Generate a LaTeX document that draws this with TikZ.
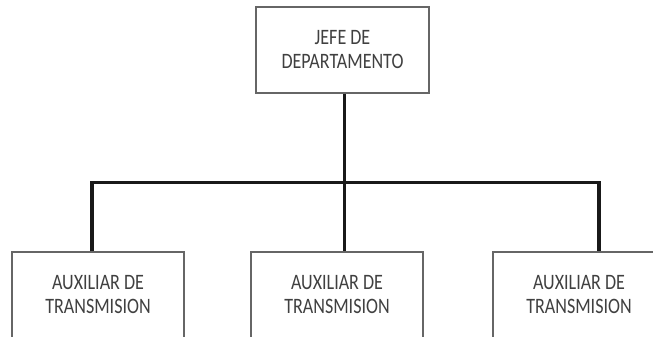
\documentclass[tikz,border=0pt]{standalone}
\usepackage{fontspec}
\setmainfont{Carlito}[FakeStretch=0.82]
\usetikzlibrary{positioning, calc}

\tikzset{
	puesto/.style={rectangle, draw=black!60, line width=1.3pt, minimum width=172pt,
		minimum height=86pt, align=center, text=black!75,
		font=\fontsize{22}{24}\selectfont},
	enlace/.style={line width=3.4pt, draw=black!90}
}

\begin{document}
\begin{tikzpicture}[x=1pt, y=-1pt]
		
		\clip (0,0) rectangle (653,337);
		\fill[white] (0,0) rectangle (653,337);
		
		%Nodes
		\node (jefe) at (342.5,50) [puesto, minimum width=173pt]{JEFE DE \\ DEPARTAMENTO};
		
		\node (aux1) at (98,295) [puesto]{AUXILIAR DE \\ TRANSMISION};
		
		\node (aux2) at (337,295) [puesto]{AUXILIAR DE \\ TRANSMISION};
		
		\node (aux3) at (579,295) [puesto]{AUXILIAR DE \\ TRANSMISION};
		
		%Links
		\coordinate (bus) at ($(jefe.south)+(2,89)$);
		\draw[enlace] ([xshift=2pt]jefe.south) -- ([xshift=2pt]jefe.south |- aux2.north);
		\draw[enlace] ([xshift=-6pt]aux1.north) |- (bus) -| ([xshift=20pt]aux3.north);
		
		\end{tikzpicture}
\end{document}
